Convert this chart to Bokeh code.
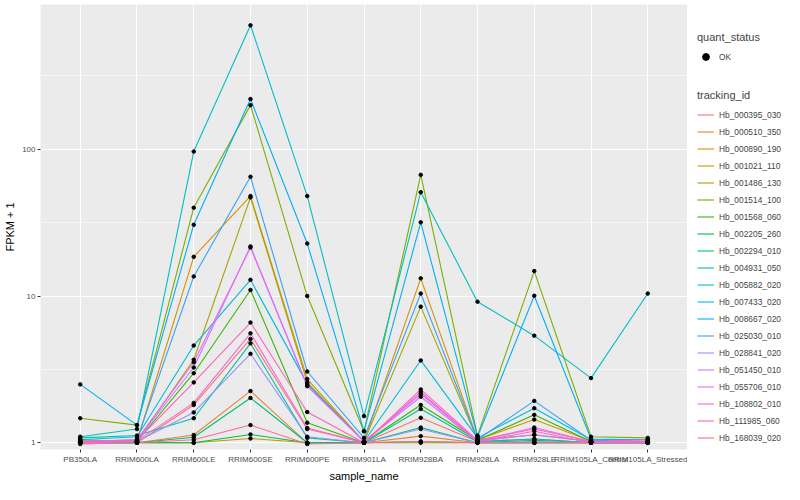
from bokeh.plotting import figure
from bokeh.layouts import row
from bokeh.models import (FactorRange, Range1d, FixedTicker, Legend, LegendItem,
                          PrintfTickFormatter, ColumnDataSource)
from bokeh.embed import file_html
from bokeh.resources import INLINE

samples = ["PB350LA", "RRIM600LA", "RRIM600LE", "RRIM600SE", "RRIM600PE", "RRIM901LA",
           "RRIM928BA", "RRIM928LA", "RRIM928LE", "RRIM105LA_Control", "RRIM105LA_Stressed"]

tracking_ids = ["Hb_000395_030", "Hb_000510_350", "Hb_000890_190", "Hb_001021_110",
                "Hb_001486_130", "Hb_001514_100", "Hb_001568_060", "Hb_002205_260",
                "Hb_002294_010", "Hb_004931_050", "Hb_005882_020", "Hb_007433_020",
                "Hb_008667_020", "Hb_025030_010", "Hb_028841_020", "Hb_051450_010",
                "Hb_055706_010", "Hb_108802_010", "Hb_111985_060", "Hb_168039_020"]

# FPKM + 1 per tracking id, in sample order
Hb_000395_030 = [1.02, 1.00, 1.81, 5.10, 1.24, 1.00, 1.48, 1.02, 1.06, 1.00, 1.00]
Hb_000510_350 = [1.00, 1.00, 1.13, 2.25, 1.00, 1.00, 1.11, 1.00, 1.00, 1.00, 1.02]
Hb_000890_190 = [1.05, 1.02, 18.5, 48.0, 2.72, 1.02, 13.2, 1.05, 1.44, 1.03, 1.00]
Hb_001021_110 = [1.00, 1.00, 1.00, 1.07, 1.00, 1.00, 1.00, 1.00, 1.00, 1.00, 1.00]
Hb_001486_130 = [1.03, 1.02, 3.68, 47.0, 2.58, 1.02, 8.47, 1.05, 1.13, 1.02, 1.02]
Hb_001514_100 = [1.47, 1.32, 40.0, 200.0, 10.0, 1.20, 67.0, 1.12, 14.8, 1.10, 1.08]
Hb_001568_060 = [1.00, 1.02, 2.98, 11.0, 1.37, 1.00, 1.81, 1.04, 1.55, 1.02, 1.00]
Hb_002205_260 = [1.00, 1.00, 1.00, 1.14, 1.00, 1.00, 1.02, 1.00, 1.00, 1.00, 1.00]
Hb_002294_010 = [1.00, 1.00, 1.09, 2.02, 1.00, 1.00, 1.27, 1.00, 1.04, 1.00, 1.00]
Hb_004931_050 = [1.08, 1.12, 1.47, 4.76, 1.08, 1.00, 1.70, 1.02, 1.06, 1.00, 1.00]
Hb_005882_020 = [1.10, 1.24, 96.5, 700.0, 48.0, 1.52, 51.0, 9.15, 5.37, 2.76, 10.4]
Hb_007433_020 = [1.05, 1.10, 4.60, 12.9, 2.52, 1.02, 3.64, 1.08, 1.72, 1.05, 1.05]
Hb_008667_020 = [2.50, 1.32, 30.6, 220.0, 22.8, 1.20, 31.8, 1.10, 10.05, 1.06, 1.05]
Hb_025030_010 = [1.02, 1.05, 13.6, 65.0, 3.06, 1.08, 10.4, 1.05, 1.93, 1.04, 1.02]
Hb_028841_020 = [1.00, 1.02, 1.61, 4.04, 1.10, 1.00, 1.24, 1.00, 1.02, 1.00, 1.00]
Hb_051450_010 = [1.00, 1.04, 3.26, 21.8, 2.45, 1.02, 2.06, 1.02, 1.14, 1.02, 1.00]
Hb_055706_010 = [1.02, 1.05, 3.54, 21.4, 2.43, 1.02, 2.15, 1.03, 1.27, 1.02, 1.02]
Hb_108802_010 = [1.00, 1.03, 1.87, 5.57, 1.26, 1.00, 2.22, 1.02, 1.20, 1.00, 1.02]
Hb_111985_060 = [1.02, 1.04, 2.58, 6.60, 1.62, 1.00, 2.31, 1.04, 1.24, 1.02, 1.05]
Hb_168039_020 = [0.98, 1.00, 1.05, 1.32, 0.98, 1.00, 1.02, 1.00, 1.00, 1.00, 1.00]

series = [Hb_000395_030, Hb_000510_350, Hb_000890_190, Hb_001021_110, Hb_001486_130,
          Hb_001514_100, Hb_001568_060, Hb_002205_260, Hb_002294_010, Hb_004931_050,
          Hb_005882_020, Hb_007433_020, Hb_008667_020, Hb_025030_010, Hb_028841_020,
          Hb_051450_010, Hb_055706_010, Hb_108802_010, Hb_111985_060, Hb_168039_020]

colors = ["#F8766D", "#EA8331", "#D89000", "#C09B00", "#A3A500", "#7CAE00", "#39B600",
          "#00BB4E", "#00BF7D", "#00C1A3", "#00BFC4", "#00BAE0", "#00B0F6", "#35A2FF",
          "#9590FF", "#C77CFF", "#E76BF3", "#FA62DB", "#FF62BC", "#FF6A98"]

FONT = "Liberation Sans"
TOP, BOTTOM = 4, 34

p = figure(width=687, height=484, output_backend="svg", toolbar_location=None,
           x_range=FactorRange(factors=samples, range_padding=0.2, range_padding_units="absolute"),
           y_range=Range1d(0.9, 970), y_axis_type="log",
           min_border_left=40, min_border_right=0, min_border_top=TOP, min_border_bottom=BOTTOM)

p.background_fill_color = "#EBEBEB"
p.border_fill_color = "white"
p.outline_line_color = None

p.xgrid.grid_line_color = "white"
p.xgrid.grid_line_width = 1.1
p.ygrid.ticker = FixedTicker(ticks=[1, 10, 100], minor_ticks=[3.1623, 31.623, 316.23])
p.ygrid.grid_line_color = "white"
p.ygrid.grid_line_width = 1.1
p.ygrid.minor_grid_line_color = "white"
p.ygrid.minor_grid_line_width = 0.55

p.yaxis.ticker = FixedTicker(ticks=[1, 10, 100], minor_ticks=[])
p.yaxis.formatter = PrintfTickFormatter(format="%d")
for ax in (p.xaxis[0], p.yaxis[0]):
    ax.axis_line_color = None
    ax.major_tick_line_color = "#333333"
    ax.major_tick_out = 3
    ax.major_tick_in = 0
    ax.minor_tick_line_color = None
    ax.major_label_text_color = "#4D4D4D"
    ax.major_label_text_font = FONT
    ax.major_label_text_font_size = "8px"
    ax.major_label_standoff = 2
    ax.axis_label_text_font = FONT
    ax.axis_label_text_font_size = "11px"
    ax.axis_label_text_font_style = "normal"
    ax.axis_label_text_color = "black"
    ax.axis_label_standoff = 3
p.xaxis.axis_label = "sample_name"
p.yaxis.axis_label = "FPKM + 1"

# legend panel: a plain figure whose proxy renderers sit outside its visible range
q = figure(width=97, height=484, output_backend="svg", toolbar_location=None,
           x_range=FactorRange(factors=samples), y_range=Range1d(5000, 6000),
           min_border_left=0, min_border_right=0, min_border_top=TOP, min_border_bottom=BOTTOM)
q.axis.visible = False
q.grid.visible = False
q.outline_line_color = None
q.background_fill_color = "white"
q.border_fill_color = "white"

items = []
for tid, vals, col in zip(tracking_ids, series, colors):
    src = ColumnDataSource(dict(x=samples, y=vals))
    p.line("x", "y", source=src, line_color=col, line_width=1.1)
    r2 = q.line("x", "y", source=src, line_color=col, line_width=1.1)
    items.append(LegendItem(label=tid, renderers=[r2]))

all_x = [s for vals in series for s in samples]
all_y = [v for vals in series for v in vals]
p.scatter(x=all_x, y=all_y, marker="circle", size=3.5, fill_color="black", line_color="black")
pts2 = q.scatter(x=all_x, y=all_y, marker="circle", size=3.5, fill_color="black", line_color="black")

common = dict(padding=0, margin=0, spacing=0, glyph_width=17, glyph_height=17,
              label_height=17, label_standoff=5,
              border_line_alpha=0, background_fill_alpha=0,
              label_text_font=FONT, label_text_font_size="8.4px",
              title_text_font=FONT, title_text_font_size="11px",
              title_text_font_style="normal", title_standoff=5)

leg_q = Legend(items=[LegendItem(label="OK", renderers=[pts2])], title="quant_status",
               location=(10, 384), **common)
leg_t = Legend(items=items, title="tracking_id", location=(10, 3), **common)
q.add_layout(leg_q)
q.add_layout(leg_t)

layout = row(p, q)
open("out.html", "w").write(file_html(layout, INLINE))
